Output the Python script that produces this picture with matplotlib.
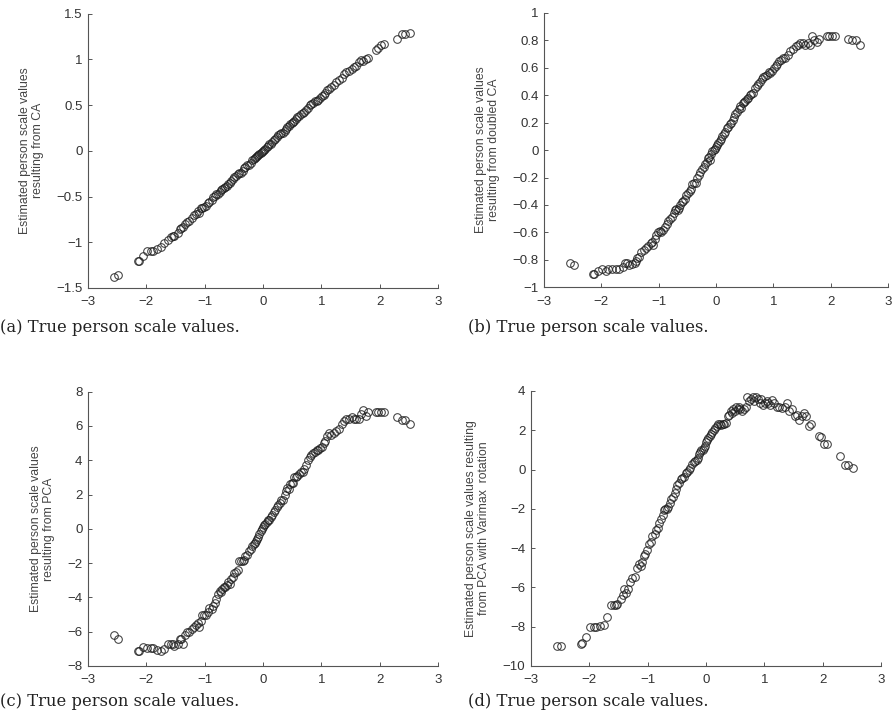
import matplotlib
matplotlib.use("Agg")
import matplotlib.pyplot as plt
from matplotlib.ticker import FuncFormatter, MultipleLocator

# true person scale values (shared by all four panels)
true_vals = [
    -2.55, -2.48, -2.15, -2.12, -2.05, -1.98, -1.92, -1.88, -1.82, -1.74,
    -1.70, -1.62, -1.58, -1.55, -1.52, -1.46, -1.42, -1.40, -1.37, -1.34,
    -1.30, -1.26, -1.22, -1.18, -1.14, -1.12, -1.10, -1.07, -1.04, -1.01,
    -0.98, -0.95, -0.92, -0.88, -0.86, -0.83, -0.80, -0.77, -0.74, -0.72,
    -0.70, -0.67, -0.65, -0.62, -0.60, -0.57, -0.54, -0.52, -0.49, -0.46,
    -0.43, -0.41, -0.38, -0.35, -0.33, -0.30, -0.27, -0.24, -0.21, -0.19,
    -0.16, -0.14, -0.12, -0.10, -0.08, -0.06, -0.04, -0.02, 0.00, 0.02,
    0.04, 0.07, 0.09, 0.11, 0.14, 0.16, 0.19, 0.21, 0.24, 0.26,
    0.29, 0.31, 0.34, 0.37, 0.40, 0.42, 0.44, 0.47, 0.49, 0.51,
    0.54, 0.56, 0.59, 0.62, 0.65, 0.68, 0.71, 0.74, 0.77, 0.80,
    0.83, 0.86, 0.89, 0.92, 0.95, 0.98, 1.01, 1.04, 1.07, 1.10,
    1.13, 1.17, 1.21, 1.25, 1.30, 1.35, 1.39, 1.43, 1.47, 1.52,
    1.56, 1.60, 1.64, 1.68, 1.72, 1.76, 1.80, 1.94, 1.97, 2.03,
    2.07, 2.30, 2.38, 2.44, 2.52,
]

est_ca = [
    -1.38, -1.36, -1.21, -1.20, -1.15, -1.10, -1.09, -1.09, -1.07, -1.05,
    -1.01, -0.97, -0.94, -0.93, -0.93, -0.90, -0.86, -0.84, -0.83, -0.80,
    -0.78, -0.77, -0.73, -0.70, -0.69, -0.66, -0.68, -0.63, -0.62, -0.61,
    -0.60, -0.57, -0.56, -0.54, -0.51, -0.49, -0.47, -0.47, -0.45, -0.43,
    -0.42, -0.41, -0.40, -0.38, -0.36, -0.35, -0.33, -0.31, -0.29, -0.27,
    -0.25, -0.24, -0.24, -0.22, -0.19, -0.18, -0.16, -0.15, -0.13, -0.10,
    -0.09, -0.08, -0.07, -0.06, -0.05, -0.03, -0.02, -0.01, 0.00, 0.01,
    0.02, 0.04, 0.05, 0.07, 0.08, 0.10, 0.12, 0.13, 0.15, 0.17,
    0.18, 0.19, 0.20, 0.22, 0.24, 0.26, 0.27, 0.29, 0.30, 0.32,
    0.33, 0.35, 0.37, 0.38, 0.40, 0.41, 0.43, 0.45, 0.47, 0.50,
    0.51, 0.52, 0.54, 0.55, 0.56, 0.58, 0.60, 0.61, 0.63, 0.66,
    0.68, 0.70, 0.72, 0.75, 0.78, 0.80, 0.84, 0.86, 0.87, 0.90,
    0.92, 0.93, 0.97, 0.99, 0.98, 1.00, 1.01, 1.10, 1.13, 1.16,
    1.17, 1.22, 1.28, 1.28, 1.29,
]

est_dca = [
    -0.82, -0.84, -0.90, -0.90, -0.88, -0.87, -0.88, -0.87, -0.87, -0.87,
    -0.87, -0.85, -0.82, -0.82, -0.84, -0.83, -0.82, -0.81, -0.79, -0.78,
    -0.74, -0.73, -0.71, -0.70, -0.68, -0.67, -0.69, -0.65, -0.62, -0.60,
    -0.59, -0.60, -0.58, -0.56, -0.54, -0.52, -0.50, -0.49, -0.46, -0.44,
    -0.43, -0.44, -0.42, -0.40, -0.38, -0.37, -0.36, -0.33, -0.31, -0.30,
    -0.28, -0.25, -0.24, -0.24, -0.20, -0.18, -0.16, -0.14, -0.12, -0.10,
    -0.09, -0.06, -0.05, -0.07, -0.03, -0.01, 0.00, 0.01, 0.02, 0.04,
    0.05, 0.07, 0.08, 0.10, 0.12, 0.13, 0.16, 0.17, 0.19, 0.20,
    0.22, 0.24, 0.26, 0.28, 0.30, 0.32, 0.31, 0.34, 0.35, 0.36,
    0.37, 0.38, 0.40, 0.41, 0.42, 0.45, 0.47, 0.48, 0.50, 0.52,
    0.53, 0.54, 0.55, 0.57, 0.56, 0.58, 0.60, 0.61, 0.63, 0.65,
    0.66, 0.67, 0.67, 0.69, 0.72, 0.74, 0.76, 0.77, 0.78, 0.78,
    0.77, 0.78, 0.77, 0.83, 0.80, 0.79, 0.81, 0.83, 0.83, 0.83,
    0.83, 0.81, 0.80, 0.80, 0.77,
]

est_pca = [
    -6.20, -6.45, -7.10, -7.12, -6.90, -6.95, -6.95, -6.95, -7.05, -7.10,
    -7.00, -6.70, -6.70, -6.70, -6.85, -6.70, -6.40, -6.45, -6.70, -6.20,
    -6.00, -6.00, -5.85, -5.70, -5.60, -5.50, -5.75, -5.40, -5.00, -5.00,
    -5.00, -4.85, -4.60, -4.70, -4.50, -4.30, -4.10, -3.80, -3.60, -3.70,
    -3.50, -3.40, -3.40, -3.30, -3.10, -3.20, -2.90, -2.80, -2.60, -2.50,
    -2.40, -1.90, -1.90, -1.90, -1.80, -1.60, -1.50, -1.30, -1.20, -1.00,
    -0.90, -0.80, -0.70, -0.60, -0.50, -0.30, -0.10, 0.00, 0.10, 0.20,
    0.30, 0.40, 0.50, 0.50, 0.70, 0.80, 1.00, 1.10, 1.30, 1.40,
    1.50, 1.70, 1.70, 2.00, 2.20, 2.40, 2.30, 2.60, 2.70, 2.70,
    3.00, 3.00, 3.10, 3.20, 3.30, 3.30, 3.50, 3.70, 4.00, 4.20,
    4.30, 4.40, 4.50, 4.60, 4.60, 4.70, 4.80, 5.00, 5.10, 5.40,
    5.60, 5.50, 5.60, 5.70, 5.80, 6.10, 6.30, 6.40, 6.40, 6.50,
    6.40, 6.40, 6.40, 6.70, 6.95, 6.60, 6.80, 6.80, 6.80, 6.80,
    6.80, 6.50, 6.35, 6.35, 6.10,
]

est_varimax = [
    -9.00, -9.00, -8.90, -8.85, -8.50, -8.00, -8.00, -8.00, -7.95, -7.90,
    -7.50, -6.90, -6.90, -6.90, -6.85, -6.60, -6.40, -6.10, -6.30, -6.10,
    -5.70, -5.50, -5.45, -5.00, -4.80, -4.90, -4.70, -4.40, -4.30, -4.10,
    -3.80, -3.70, -3.40, -3.30, -3.10, -3.00, -2.70, -2.50, -2.30, -2.05,
    -2.00, -2.00, -1.90, -1.70, -1.50, -1.40, -1.20, -1.00, -0.80, -0.70,
    -0.50, -0.45, -0.40, -0.20, -0.10, 0.00, 0.10, 0.30, 0.40, 0.45,
    0.50, 0.60, 0.80, 0.90, 1.00, 1.00, 1.10, 1.20, 1.40, 1.50,
    1.60, 1.70, 1.80, 1.90, 2.00, 2.10, 2.20, 2.30, 2.30, 2.25,
    2.30, 2.30, 2.35, 2.70, 2.80, 3.00, 2.90, 3.10, 3.00, 3.20,
    3.10, 3.20, 3.10, 3.00, 3.10, 3.20, 3.70, 3.50, 3.60, 3.70,
    3.50, 3.70, 3.60, 3.40, 3.60, 3.30, 3.40, 3.50, 3.40, 3.30,
    3.55, 3.40, 3.20, 3.20, 3.15, 3.20, 3.40, 3.00, 3.10, 2.70,
    2.80, 2.50, 2.70, 2.90, 2.70, 2.20, 2.30, 1.70, 1.65, 1.30,
    1.30, 0.70, 0.25, 0.25, 0.10,
]

ylabels = [
    "Estimated person scale values\nresulting from CA",
    "Estimated person scale values\nresulting from doubled CA",
    "Estimated person scale values\nresulting from PCA",
    "Estimated person scale values resulting\nfrom PCA with Varimax  rotation",
]
captions = ["(a) True person scale values.", "(b) True person scale values.",
            "(c) True person scale values.", "(d) True person scale values."]

plt.rcParams['font.family'] = ['Liberation Sans', 'DejaVu Sans']

fig = plt.figure(figsize=(8.93, 7.2), dpi=100)

# [left, bottom, width, height]
boxes = [
    [0.0985, 0.600, 0.392, 0.381],
    [0.6092, 0.601, 0.385, 0.381],
    [0.0985, 0.075, 0.392, 0.381],
    [0.5946, 0.075, 0.392, 0.382],
]
series = [est_ca, est_dca, est_pca, est_varimax]
ylims = [(-1.5, 1.5, 0.5), (-1, 1, 0.2), (-8, 8, 2), (-10, 4, 2)]


def fmt(v, pos):
    s = '%g' % round(v, 6)
    return s.replace('-', '\u2212')


for box, ys, (lo, hi, step), lab in zip(boxes, series, ylims, ylabels):
    ax = fig.add_axes(box)
    ax.plot(true_vals, ys, 'o', mfc='none', mec='#1e1e1e', mew=0.75,
            ms=5.5, alpha=0.85, clip_on=False)
    ax.set_xlim(-3, 3)
    ax.set_ylim(lo, hi)
    ax.xaxis.set_major_locator(MultipleLocator(1))
    ax.yaxis.set_major_locator(MultipleLocator(step))
    ax.xaxis.set_major_formatter(FuncFormatter(fmt))
    ax.yaxis.set_major_formatter(FuncFormatter(fmt))
    for side in ['top', 'right']:
        ax.spines[side].set_visible(False)
    for side in ['left', 'bottom']:
        ax.spines[side].set_color('#555555')
        ax.spines[side].set_linewidth(0.8)
    ax.tick_params(direction='in', length=3, width=0.7, color='#555555',
                   labelsize=9.5, labelcolor='#333333', pad=4)
    ax.tick_params(axis='x', pad=6)
    ax.set_ylabel(lab, fontsize=8.8, color='#444444', labelpad=9,
                  linespacing=1.1)

cap_pos = [(0.0, 0.545), (0.524, 0.545), (0.0, 0.025), (0.524, 0.025)]
for (cx, cy), txt in zip(cap_pos, captions):
    fig.text(cx, cy, txt, fontsize=11.8, family='DejaVu Serif',
             color='#222222', va='center', ha='left')

fig.savefig('out.png', dpi=100)
